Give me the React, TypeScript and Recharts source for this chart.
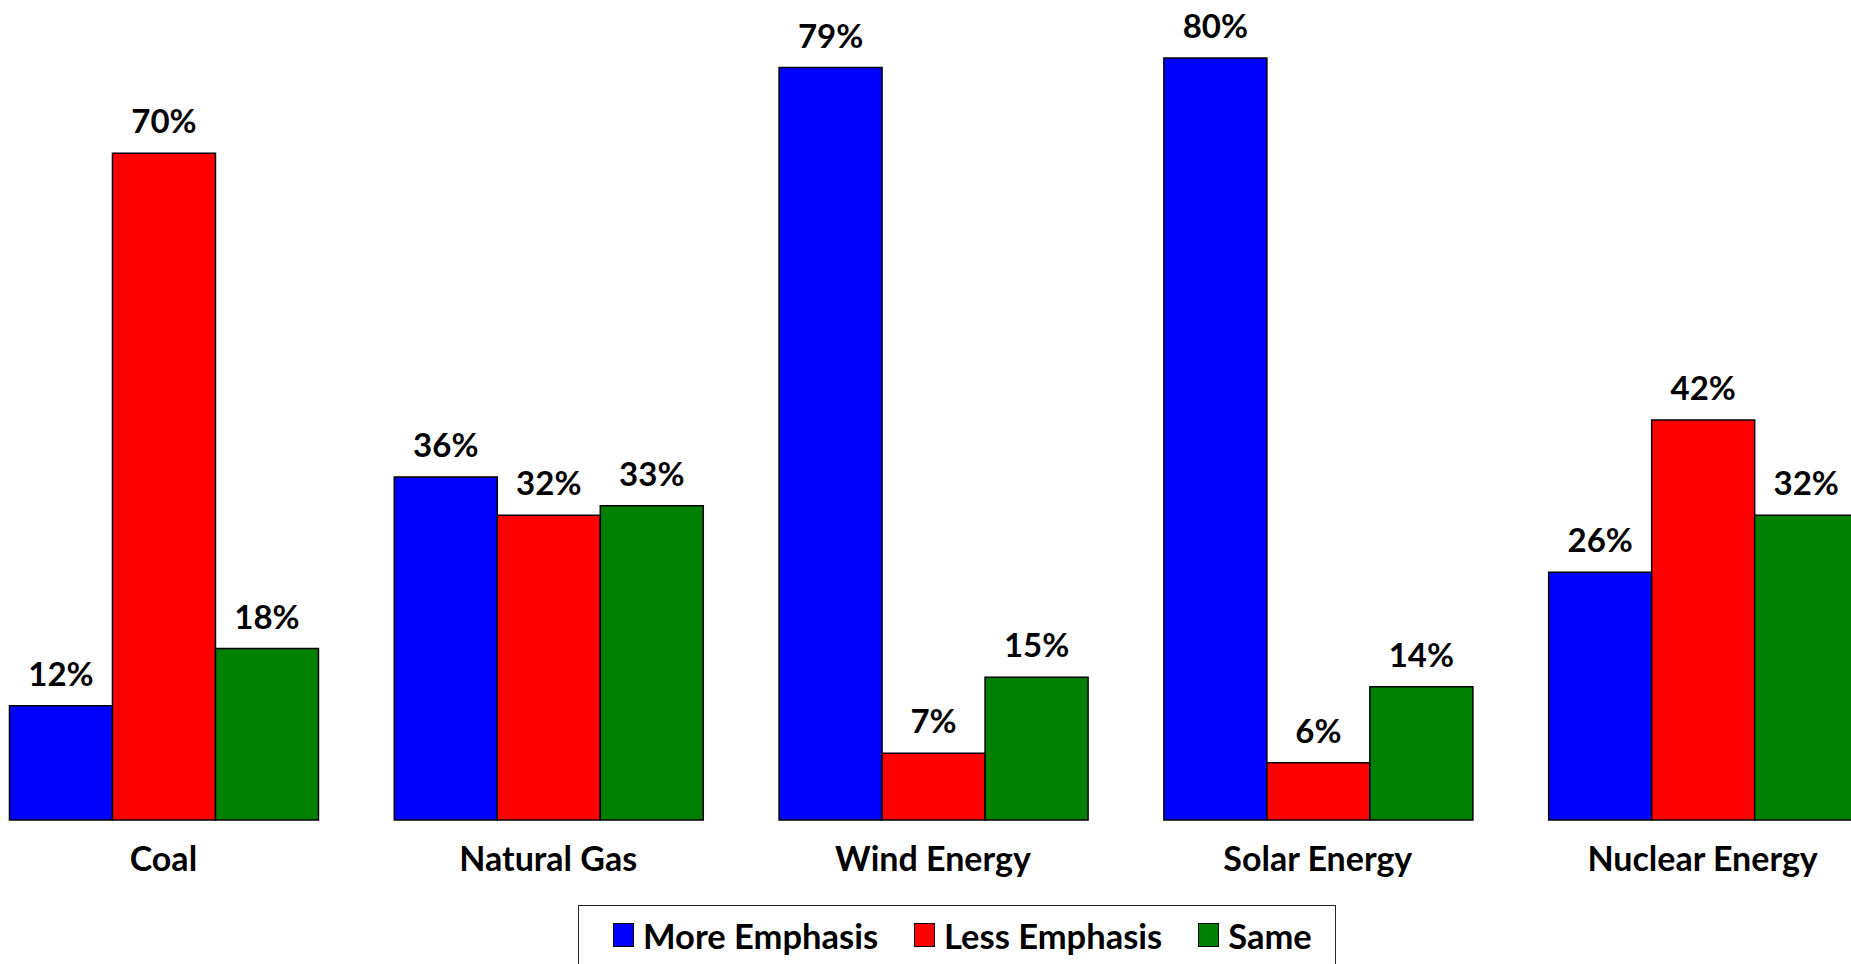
import React from "react";
import {Bar, BarChart, LabelList, Legend, XAxis, YAxis} from "recharts";

const categories = ['Coal', 'Natural Gas', 'Wind Energy', 'Solar Energy', 'Nuclear Energy'];
const moreEmphasis = [12, 36, 79, 80, 26];
const lessEmphasis = [70, 32, 7, 6, 42];
const sameEmphasis = [18, 33, 15, 14, 32];

const seriesNames = ['More Emphasis', 'Less Emphasis', 'Same'];

const data = categories.map((name, i) => ({
    name,
    more: moreEmphasis[i],
    less: lessEmphasis[i],
    same: sameEmphasis[i],
}));

const FONT = 'Lato, "Open Sans", sans-serif';

const LegendBox = (props: any) => {
    const payload = [...(props.payload || [])].sort(
        (a: any, b: any) => seriesNames.indexOf(a.value) - seriesNames.indexOf(b.value)
    );
    return (
        <div style={{height: 59, overflow: 'visible'}}>
            <div style={{
                boxSizing: 'border-box',
                height: 80,
                border: '1.5px solid #222',
                display: 'flex',
                alignItems: 'flex-start',
                paddingLeft: 34,
                paddingTop: 9,
                background: '#fff',
                whiteSpace: 'nowrap',
            }}>
                {payload.map((entry: any, index: number) => (
                    <div key={index} style={{display: 'flex', alignItems: 'center', marginRight: 36, height: 40, flexShrink: 0}}>
                        <span style={{
                            display: 'inline-block',
                            width: 19,
                            height: 22,
                            background: entry.color,
                            border: '1px solid #000',
                            marginRight: 9,
                        }}/>
                        <span style={{fontFamily: FONT, fontWeight: 700, fontSize: 34.5, color: '#000'}}>
                            {entry.value}
                        </span>
                    </div>
                ))}
            </div>
        </div>
    )
}

const App = () => {
    const labelStyle = {fontFamily: FONT, fontWeight: 700, fontSize: 33, fill: '#000'};
    return (
        <div style={{position: 'absolute', left: 0, top: 0, width: 1851, height: 964, overflow: 'hidden', background: '#fff'}}>
            <div style={{marginLeft: -29}}>
                <BarChart width={1924} height={964} data={data}
                          margin={{top: 58, right: 0, left: 0, bottom: 0}}
                          barCategoryGap="10%" barGap={0}>
                    <XAxis dataKey="name" axisLine={false} tickLine={false} tickSize={0} tickMargin={27}
                           height={85} interval={0}
                           tick={{fontFamily: FONT, fontWeight: 700, fontSize: 34, fill: '#000'}}/>
                    <YAxis hide domain={[0, 80]}/>
                    <Legend verticalAlign="bottom" content={<LegendBox/>}
                            wrapperStyle={{left: 607, width: 758, bottom: 0}}/>
                    <Bar dataKey="more" name={seriesNames[0]} fill="#0000FF" stroke="#000" strokeWidth={1.5}
                         isAnimationActive={false}>
                        <LabelList dataKey="more" position="top" offset={20} formatter={(v: any) => `${v}%`}
                                   style={labelStyle}/>
                    </Bar>
                    <Bar dataKey="less" name={seriesNames[1]} fill="#FF0000" stroke="#000" strokeWidth={1.5}
                         isAnimationActive={false}>
                        <LabelList dataKey="less" position="top" offset={20} formatter={(v: any) => `${v}%`}
                                   style={labelStyle}/>
                    </Bar>
                    <Bar dataKey="same" name={seriesNames[2]} fill="#008000" stroke="#000" strokeWidth={1.5}
                         isAnimationActive={false}>
                        <LabelList dataKey="same" position="top" offset={20} formatter={(v: any) => `${v}%`}
                                   style={labelStyle}/>
                    </Bar>
                </BarChart>
            </div>
        </div>
    )
}
export default App;
